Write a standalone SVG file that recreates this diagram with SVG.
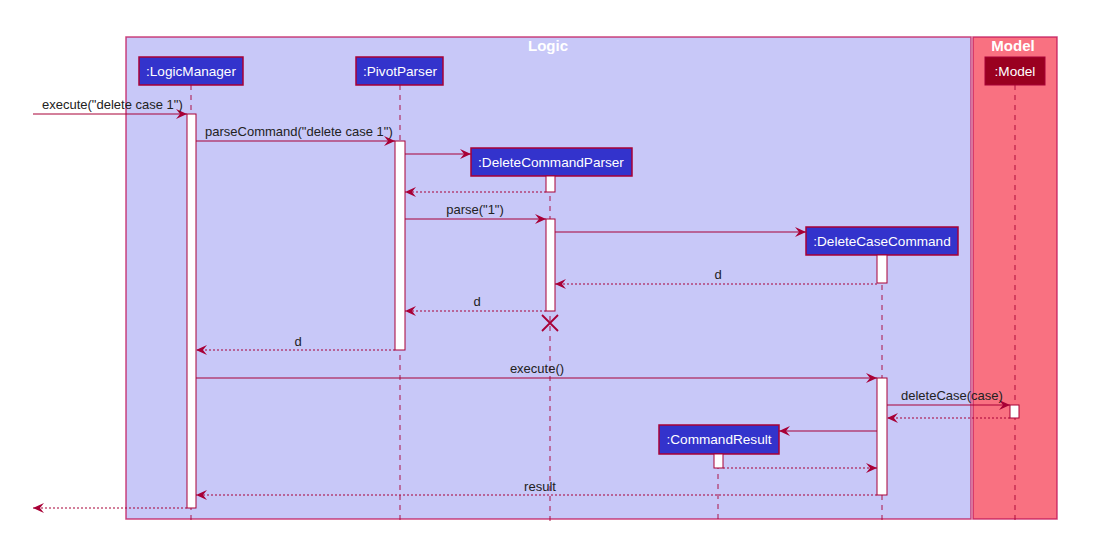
<svg xmlns="http://www.w3.org/2000/svg" width="1105" height="547" viewBox="0 0 1105 547">
<style>
text{font-family:"Liberation Sans",Arial,sans-serif;font-size:13px;fill:#222}
.title{font-weight:bold;font-size:15px;fill:#fff;text-anchor:middle}
.pt{fill:#fff;text-anchor:middle;font-size:13.6px}
.pbox{fill:#3333CC;stroke:#A80036;stroke-width:1.5}
.life{stroke:#A80036;stroke-opacity:0.6;stroke-width:1.5;stroke-dasharray:5,5;fill:none}
.act{fill:#fff;stroke:#A80036;stroke-width:1}
.msg{stroke:#A80036;stroke-width:1;fill:none;marker-end:url(#ah)}
.ret{stroke:#A80036;stroke-width:1;stroke-dasharray:2,2;fill:none;marker-end:url(#ah)}
</style>
<defs>
<marker id="ah" markerWidth="12" markerHeight="10" refX="11" refY="5" orient="auto" markerUnits="userSpaceOnUse">
<path d="M0,0 L11,5 L0,10 L4,5 Z" fill="#A80036"/>
</marker>
</defs>
<rect width="1105" height="547" fill="#fff"/>
<g id="box-logic">
<rect x="126" y="37" width="845" height="482" fill="#C8C8F8" stroke="#C2185B" stroke-opacity="0.8" stroke-width="1.5"/>
<text class="title" x="548" y="51">Logic</text>
</g>
<g id="box-model">
<rect x="973" y="37" width="84" height="482" fill="#F97181" stroke="#C2185B" stroke-opacity="0.8" stroke-width="1.5"/>
<text class="title" x="1013" y="51">Model</text>
</g>
<g id="lifelines">
<line class="life" x1="191" y1="85" x2="191" y2="523"/>
<line class="life" x1="400" y1="85" x2="400" y2="523"/>
<line class="life" x1="550" y1="176" x2="550" y2="523"/>
<line class="life" x1="882" y1="255" x2="882" y2="523"/>
<line class="life" x1="718" y1="454" x2="718" y2="523"/>
<line class="life" x1="1015" y1="85" x2="1015" y2="523"/>
</g>
<g id="LogicManager">
<rect class="pbox" x="139" y="57" width="104" height="28"/>
<text class="pt" x="191" y="76">:LogicManager</text>
<rect class="act" x="187" y="114" width="9" height="394"/>
</g>
<g id="PivotParser">
<rect class="pbox" x="356" y="57" width="87" height="28"/>
<text class="pt" x="400" y="76">:PivotParser</text>
<rect class="act" x="395" y="141" width="10" height="209"/>
</g>
<g id="DeleteCommandParser">
<rect class="pbox" x="471" y="148" width="161" height="28"/>
<text class="pt" x="551" y="167">:DeleteCommandParser</text>
<rect class="act" x="546" y="176" width="9" height="16"/>
<rect class="act" x="546" y="219" width="9" height="92"/>
<path d="M542,315 L558,331 M558,315 L542,331" stroke="#A80036" stroke-width="1.8"/>
</g>
<g id="DeleteCaseCommand">
<rect class="pbox" x="806" y="227" width="152" height="28"/>
<text class="pt" x="882" y="246">:DeleteCaseCommand</text>
<rect class="act" x="877" y="255" width="10" height="28"/>
<rect class="act" x="877" y="378" width="10" height="117"/>
</g>
<g id="CommandResult">
<rect class="pbox" x="659" y="425" width="120" height="29"/>
<text class="pt" x="719" y="444">:CommandResult</text>
<rect class="act" x="714" y="454" width="9" height="14"/>
</g>
<g id="Model">
<rect x="985" y="57" width="60" height="28" fill="#9A0020" stroke="#A80036" stroke-width="1"/>
<text class="pt" x="1015" y="76">:Model</text>
<rect class="act" x="1010" y="405" width="9" height="13"/>
</g>
<g id="connectors">
<line class="msg" x1="33" y1="114" x2="187" y2="114"/>
<text x="42" y="109">execute("delete case 1")</text>
<line class="msg" x1="196" y1="141" x2="395" y2="141"/>
<text x="205" y="136">parseCommand("delete case 1")</text>
<line class="msg" x1="405" y1="154" x2="471" y2="154"/>
<line class="ret" x1="546" y1="192" x2="405" y2="192"/>
<line class="msg" x1="405" y1="219" x2="546" y2="219"/>
<text x="475" y="214" text-anchor="middle">parse("1")</text>
<line class="msg" x1="555" y1="232" x2="806" y2="232"/>
<line class="ret" x1="877" y1="284" x2="555" y2="284"/>
<text x="718" y="279" text-anchor="middle">d</text>
<line class="ret" x1="546" y1="311" x2="405" y2="311"/>
<text x="477" y="306" text-anchor="middle">d</text>
<line class="ret" x1="395" y1="350" x2="196" y2="350"/>
<text x="298" y="346" text-anchor="middle">d</text>
<line class="msg" x1="196" y1="378" x2="877" y2="378"/>
<text x="537" y="373" text-anchor="middle">execute()</text>
<line class="msg" x1="887" y1="405" x2="1010" y2="405"/>
<text x="901" y="400">deleteCase(case)</text>
<line class="ret" x1="1010" y1="418" x2="887" y2="418"/>
<line class="msg" x1="877" y1="431" x2="779" y2="431"/>
<line class="ret" x1="723" y1="468" x2="877" y2="468"/>
<line class="ret" x1="877" y1="495" x2="196" y2="495"/>
<text x="540" y="491" text-anchor="middle">result</text>
<line class="ret" x1="187" y1="508" x2="33" y2="508"/>
</g>
</svg>
